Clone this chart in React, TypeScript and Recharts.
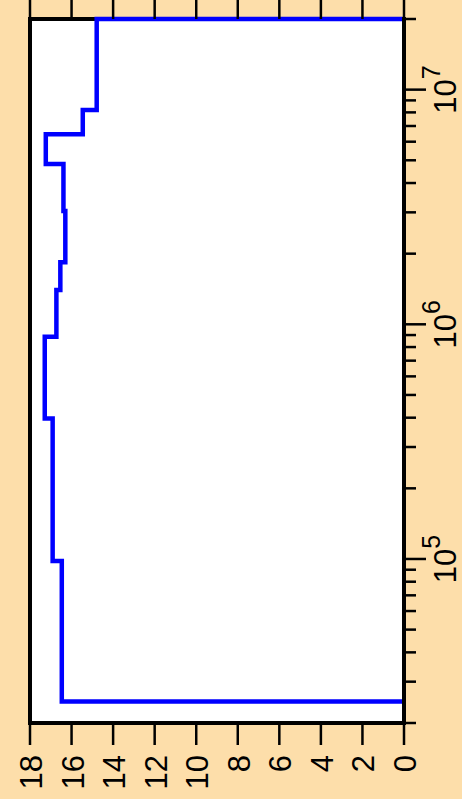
import React from 'react';
import { LineChart, Line, XAxis, YAxis, CartesianGrid } from 'recharts';

// step points (time, value), drawn vertical-first like R's type="S"
const times = [24700, 98000, 397000, 886000, 1400000, 1840000, 3040000, 4820000, 6450000, 8190000, 20000000, 20000000];
const values = [0, 16.47, 16.91, 17.29, 16.73, 16.54, 16.3, 16.39, 17.24, 15.46, 14.79, 0];

const majorLogTicks = [100000, 1000000, 10000000];
const minorLogTicks = [
  20000, 30000, 40000, 50000, 60000, 70000, 80000, 90000,
  200000, 300000, 400000, 500000, 600000, 700000, 800000, 900000,
  2000000, 3000000, 4000000, 5000000, 6000000, 7000000, 8000000, 9000000,
  20000000,
];
const exponents = ['5', '6', '7'];
const valueTicks = [0, 2, 4, 6, 8, 10, 12, 14, 16, 18];

const data = times.map((t, i) => ({ t, v: values[i] }));
const logTicks = [...minorLogTicks, ...majorLogTicks].sort((a, b) => a - b);

const BG = '#FDDEAA';
const FONT = '"Liberation Sans", Arial, sans-serif';
const W = 799;
const H = 462;
const TICK_W = 2.5;

const tickLen = (v: number) => (majorLogTicks.includes(v) ? 22 : 12);

const BottomTick = ({ x, y, payload }: any) => {
  const v = payload.value;
  const k = majorLogTicks.indexOf(v);
  return (
    <g>
      <line x1={x} x2={x} y1={y} y2={y + tickLen(v)} stroke="#000" strokeWidth={TICK_W} />
      {k >= 0 && (
        <text x={x} y={y + 52} textAnchor="middle" fontSize={31} fontFamily={FONT} fill="#000">
          <tspan>10</tspan>
          <tspan dy={-16} fontSize={25}>{exponents[k]}</tspan>
        </text>
      )}
    </g>
  );
};

const TopTick = ({ x, y, payload }: any) => (
  <line x1={x} x2={x} y1={y} y2={y - tickLen(payload.value)} stroke="#000" strokeWidth={TICK_W} />
);

const LeftTick = ({ x, y, payload }: any) => (
  <g>
    <line x1={x} x2={x - 22} y1={y} y2={y} stroke="#000" strokeWidth={TICK_W} />
    <text x={x - 32} y={y + 12} textAnchor="end" fontSize={31} fontFamily={FONT} fill="#000">
      {payload.value}
    </text>
  </g>
);

const RightTick = ({ x, y }: any) => (
  <line x1={x} x2={x + 22} y1={y} y2={y} stroke="#000" strokeWidth={TICK_W} />
);

const border = { stroke: '#000', strokeWidth: 4, strokeLinecap: 'square' as const };

export default function App() {
  return (
    <div style={{ position: 'fixed', left: 0, top: 0, width: H, height: W, background: BG, overflow: 'hidden' }}>
      <div style={{ width: W, height: H, transformOrigin: '0 0', transform: `translateY(${W}px) rotate(-90deg)` }}>
        <LineChart width={W} height={H} data={data} margin={{ top: 0, right: 0, bottom: 0, left: 0 }}>
          {/* right side of the box sits under the line, as in the original */}
          <CartesianGrid
            horizontal={false}
            fill="#fff"
            stroke="#000"
            strokeWidth={4}
            verticalCoordinatesGenerator={({ offset }: any) => [offset.left + offset.width]}
          />
          <XAxis
            dataKey="t"
            type="number"
            scale="log"
            domain={[20000, 20000000]}
            ticks={logTicks}
            interval={0}
            height={58}
            tickSize={0}
            tickMargin={0}
            tickLine={false}
            axisLine={border}
            tick={BottomTick}
          />
          <XAxis
            xAxisId="top"
            orientation="top"
            type="number"
            scale="log"
            domain={[20000, 20000000]}
            allowDataOverflow
            ticks={logTicks}
            interval={0}
            height={30}
            tickSize={0}
            tickMargin={0}
            tickLine={false}
            axisLine={border}
            tick={TopTick}
          />
          <YAxis
            type="number"
            domain={[0, 18]}
            ticks={valueTicks}
            interval={0}
            width={76}
            tickSize={0}
            tickMargin={0}
            tickLine={false}
            axisLine={border}
            tick={LeftTick}
          />
          <YAxis
            yAxisId="right"
            orientation="right"
            type="number"
            domain={[0, 18]}
            allowDataOverflow
            ticks={valueTicks}
            interval={0}
            width={19}
            tickSize={0}
            tickMargin={0}
            tickLine={false}
            axisLine={false}
            tick={RightTick}
          />
          <Line
            dataKey="v"
            type="stepBefore"
            stroke="#0000FF"
            strokeWidth={4.5}
            strokeLinejoin="miter"
            dot={false}
            activeDot={false}
            isAnimationActive={false}
          />
        </LineChart>
      </div>
    </div>
  );
}
